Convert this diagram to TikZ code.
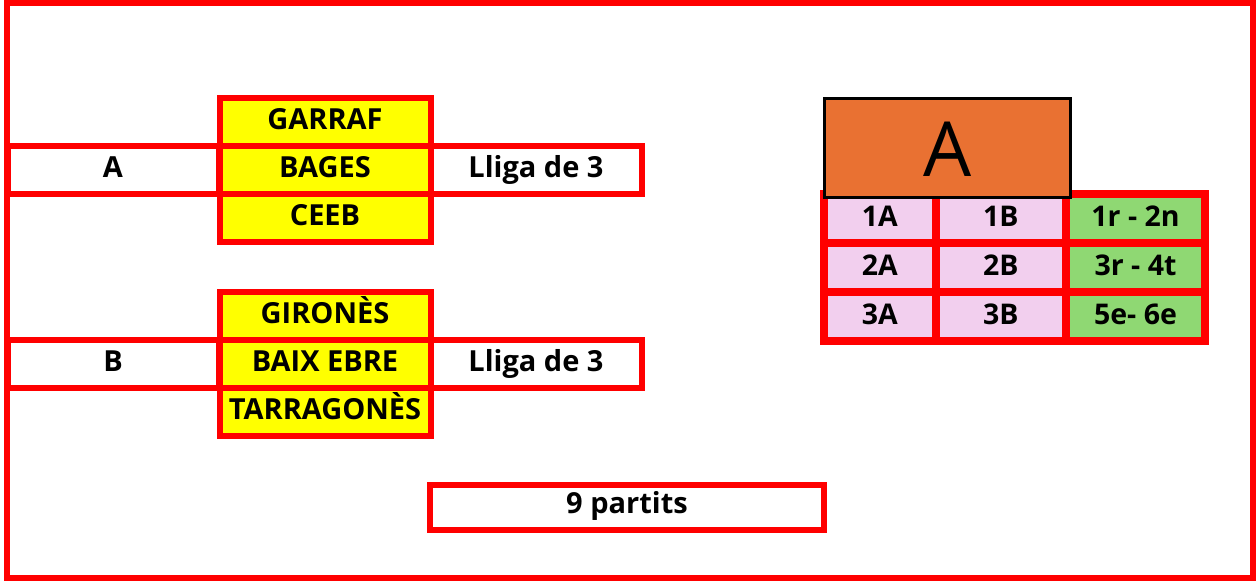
\documentclass[tikz,border=0pt]{standalone}
\usepackage{fontspec}
\setmainfont{Open Sans}
\definecolor{rd}{RGB}{255,0,0}
\definecolor{yl}{RGB}{255,255,0}
\definecolor{org}{RGB}{233,113,50}
\definecolor{pnk}{RGB}{242,207,238}
\definecolor{grn}{RGB}{143,216,115}
\begin{document}
\begin{tikzpicture}[x=1pt,y=-1pt,
  box/.style={draw=rd, line width=6pt, inner sep=0pt, outer sep=0pt, anchor=north west, fill=white},
  ybox/.style={box, fill=yl, minimum width=211pt, minimum height=48pt},
  wbox/.style={box, minimum width=211pt, minimum height=47.5pt},
  tcell/.style={draw=rd, line width=8pt, inner sep=0pt, outer sep=0pt, anchor=north west},
  txt/.style={inner sep=0pt, anchor=base, font=\fontsize{29}{31}\bfseries\selectfont},
  ttxt/.style={inner sep=0pt, anchor=base, font=\fontsize{28.5}{30}\bfseries\selectfont}]
\useasboundingbox (0,0) rectangle (1256,581);
% outer frame
\node[box, fill=none, minimum width=1246pt, minimum height=575pt] (frame) at (7,3) {};

% group A
\node[wbox] (rowA) at (7.5,146) {};
\node[wbox] (ligaA) at (430.5,146) {};
\node[ybox] (garraf) at (219.5,98) {};
\node[ybox, minimum height=47.5pt] (bages) at (219.5,146) {};
\node[ybox] (ceeb) at (219.5,193.5) {};
\node[txt] (tA) at ([yshift=16.5pt]rowA.south) {A};
\node[txt] (tligaA) at ([yshift=16.5pt]ligaA.south) {Lliga de 3};
\node[txt] (tgarraf) at ([yshift=16.5pt]garraf.south) {GARRAF};
\node[txt] (tbages) at ([yshift=16.5pt]bages.south) {BAGES};
\node[txt] (tceeb) at ([yshift=16.5pt]ceeb.south) {CEEB};

% group B
\node[wbox] (rowB) at (7.5,340) {};
\node[wbox] (ligaB) at (430.5,340) {};
\node[ybox] (girones) at (219.5,292) {};
\node[ybox, minimum height=47.5pt] (baix) at (219.5,340) {};
\node[ybox] (tarr) at (219.5,387.5) {};
\node[txt] (tB) at ([yshift=16.5pt]rowB.south) {B};
\node[txt] (tligaB) at ([yshift=16.5pt]ligaB.south) {Lliga de 3};
\node[txt] (tgirones) at ([yshift=16.5pt]girones.south) {GIRONÈS};
\node[txt] (tbaix) at ([yshift=16.5pt]baix.south) {BAIX EBRE};
\node[txt] (ttarr) at ([yshift=16.5pt]tarr.south) {TARRAGONÈS};

% bottom box
\node[box, minimum width=394pt, minimum height=45pt] (part) at (430,485) {};
\node[txt] (tpart) at ([yshift=17pt]part.south) {9 partits};

% table
\foreach \r/\y/\h in {1/193.5/49.5, 2/243/49, 3/292/49}{
  \node[tcell, fill=pnk, minimum width=111.5pt, minimum height=\h pt] (c\r a) at (824,\y) {};
  \node[tcell, fill=pnk, minimum width=130.5pt, minimum height=\h pt] (c\r b) at (935.5,\y) {};
  \node[tcell, fill=grn, minimum width=139pt, minimum height=\h pt] (c\r c) at (1066,\y) {};
}
\node[ttxt] (t1a) at ([yshift=16.5pt]c1a.south) {1A};
\node[ttxt] (t1b) at ([yshift=16.5pt]c1b.south) {1B};
\node[ttxt] (t1c) at ([yshift=16.5pt]c1c.south) {1r - 2n};
\node[ttxt] (t2a) at ([yshift=16.5pt]c2a.south) {2A};
\node[ttxt] (t2b) at ([yshift=16.5pt]c2b.south) {2B};
\node[ttxt] (t2c) at ([yshift=16.5pt]c2c.south) {3r - 4t};
\node[ttxt] (t3a) at ([yshift=16.5pt]c3a.south) {3A};
\node[ttxt] (t3b) at ([yshift=16.5pt]c3b.south) {3B};
\node[ttxt] (t3c) at ([yshift=16.5pt]c3c.south) {5e- 6e};

% orange header
\node[draw=black, line width=3pt, fill=org, inner sep=0pt, anchor=north west,
      minimum width=246.5pt, minimum height=99pt] (hdr) at (822.5,96.5) {};
\node[inner sep=0pt, anchor=base, font=\fontsize{76}{80}\selectfont] (thdr) at ([yshift=22.2pt]hdr.south) {A};
\end{tikzpicture}
\end{document}
